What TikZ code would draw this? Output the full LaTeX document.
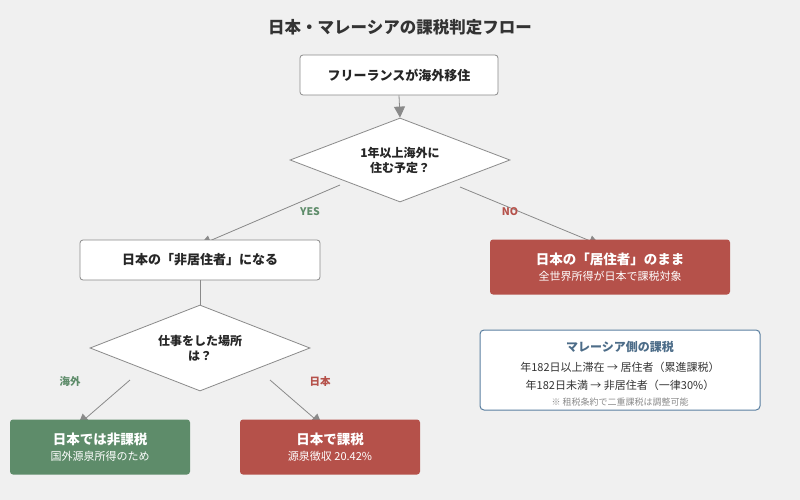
\documentclass[tikz,border=0pt]{standalone}
\usepackage{fontspec}
\setmainfont{Noto Sans CJK JP}
\usetikzlibrary{shapes.geometric,arrows.meta}
\definecolor{bg}{HTML}{F0F0F0}
\definecolor{redb}{HTML}{B5514A}
\definecolor{greenb}{HTML}{5E8C6A}
\definecolor{blueb}{HTML}{5A7FA0}
\definecolor{ln}{HTML}{8A8A8A}
\newcommand{\cttl}{\bfseries\fontsize{13.5}{16}\selectfont}
\tikzset{
 box/.style={draw=ln,fill=white,rounded corners=3pt,line width=0.8pt,font=\bfseries\fontsize{13}{15}\selectfont,text=black!85},
 cbox/.style={rounded corners=3pt,text=white,align=center,font=\fontsize{11}{16}\selectfont},
 dia/.style={diamond,draw=ln,fill=white,line width=0.8pt,aspect=2.6,inner sep=0pt,align=center,font=\bfseries\fontsize{12}{15}\selectfont,text=black!85},
 arr/.style={draw=ln,line width=0.8pt,-{Triangle[length=11pt,width=11pt]}},
 lab/.style={font=\bfseries\fontsize{10.5}{12}\selectfont}
}
\begin{document}
\begin{tikzpicture}[x=1pt,y=-1pt]
\fill[bg] (0,0) rectangle (800,500);
\useasboundingbox (0,0) rectangle (800,500);
\node[font=\bfseries\fontsize{16.5}{18}\selectfont,text=black!80] (title) at (400,27) {日本・マレーシアの課税判定フロー};
\node[box,minimum width=198pt,minimum height=40pt] (b1) at (399,75) {フリーランスが海外移住};
\node[dia,minimum width=220pt,minimum height=84pt] (d1) at (400,160) {1年以上海外に\\住む予定？};
\coordinate (b2c) at (200,260);
\coordinate (b3c) at (610,267);
\node[dia,minimum width=220pt,minimum height=86pt] (d2) at (200,348) {仕事をした場所\\は？};
\coordinate (y0) at (340,185);
\coordinate (n0) at (460,187);
\coordinate (k0) at (130,380);
\coordinate (j0) at (270,380);
\coordinate (ye) at (200,245);
\coordinate (ne) at (600,245);
\coordinate (ke) at (78,425);
\coordinate (je) at (322,425);
\draw[arr] (b1.south) -- (d1.north);
\draw[arr] (y0) -- (ye);
\draw[arr] (n0) -- (ne);
\draw[arr] (k0) -- (ke);
\draw[arr] (j0) -- (je);
\node[box,minimum width=240pt,minimum height=40pt] (b2) at (b2c) {日本の「非居住者」になる};
\draw[draw=ln,line width=0.8pt] (b2.south) -- (d2.north);
\node[cbox,fill=redb,minimum width=240pt,minimum height=55pt] (b3) at (b3c) {{\cttl 日本の「居住者」のまま}\\全世界所得が日本で課税対象};
\node[cbox,fill=greenb,minimum width=180pt,minimum height=55pt] (g) at (100,447) {{\cttl 日本では非課税}\\国外源泉所得のため};
\node[cbox,fill=redb,minimum width=180pt,minimum height=55pt] (r) at (330,447) {{\cttl 日本で課税}\\源泉徴収 20.42\%};
\node[draw=blueb,fill=white,rounded corners=4pt,line width=1pt,minimum width=280pt,minimum height=80pt] (m) at (620,370) {};
\node[font=\bfseries\fontsize{12}{14}\selectfont,text=blueb!85!black] (mt) at (620,347) {マレーシア側の課税};
\node[font=\fontsize{11}{13}\selectfont,text=black!80] (m1) at (620,367) {年182日以上滞在 → 居住者（累進課税）};
\node[font=\fontsize{11}{13}\selectfont,text=black!80] (m2) at (620,385) {年182日未満 → 非居住者（一律30\%）};
\node[font=\fontsize{9}{11}\selectfont,text=black!45] (m3) at (620,402) {※ 租税条約で二重課税は調整可能};
\node[lab,text=greenb] (yes) at (310,212) {YES};
\node[lab,text=redb] (no) at (510,212) {NO};
\node[lab,text=greenb] (kai) at (70,382) {海外};
\node[lab,text=redb] (nih) at (320,382) {日本};
\end{tikzpicture}
\end{document}
